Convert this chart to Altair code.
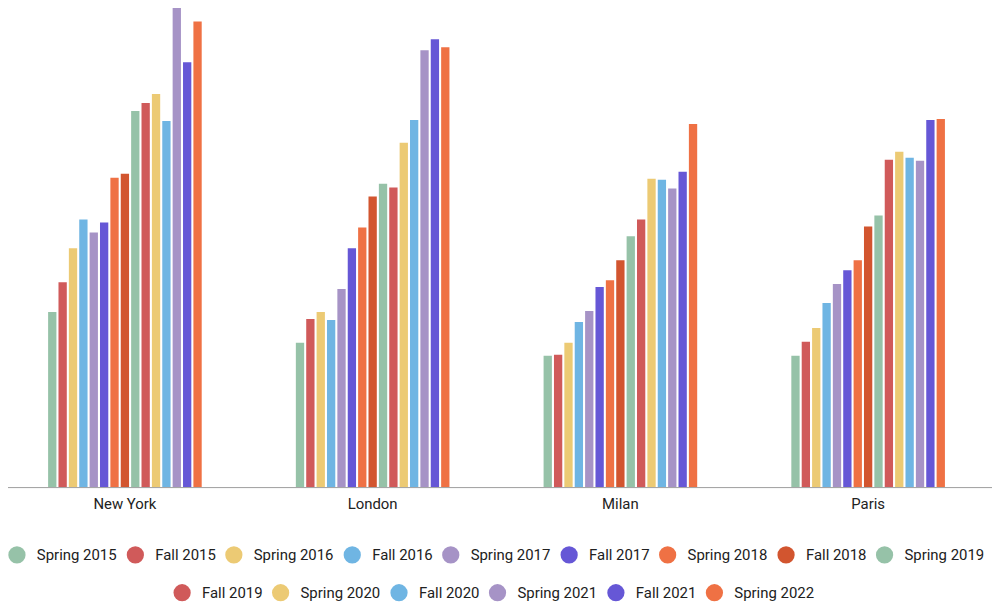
import altair as alt
import pandas as pd

cities = ["New York", "London", "Milan", "Paris"]
seasons = ["Spring 2015", "Fall 2015", "Spring 2016", "Fall 2016", "Spring 2017",
           "Fall 2017", "Spring 2018", "Fall 2018", "Spring 2019", "Fall 2019",
           "Spring 2020", "Fall 2020", "Spring 2021", "Fall 2021", "Spring 2022"]
colors = ["#96c2a8", "#d05a5a", "#ecca74", "#6fb5e3", "#a693c6",
          "#6657d6", "#ef7144", "#d2552f", "#96c2a8", "#d05a5a",
          "#ecca74", "#6fb5e3", "#a693c6", "#6657d6", "#ef7144"]

new_york = [176, 206, 240, 269, 256, 266, 311, 315, 378, 386, 395, 368, 482, 427, 468]
london = [145, 169, 176, 168, 199, 240, 261, 292, 305, 301, 346, 369, 439, 450, 442]
milan = [132, 133, 145, 166, 177, 201, 208, 228, 252, 269, 310, 309, 300, 317, 365]
paris = [132, 146, 160, 185, 204, 218, 228, 262, 273, 329, 337, 331, 328, 369, 370]

rows = []
for city, vals in zip(cities, [new_york, london, milan, paris]):
    for s, v in zip(seasons, vals):
        rows.append({"city": city, "season": s, "value": v})
df = pd.DataFrame(rows)

row1 = seasons[:9]
row2 = seasons[9:]

x_enc = alt.X("city:N", sort=cities, title=None,
              scale=alt.Scale(paddingInner=0.38, paddingOuter=0.19, range=[-7, 989]),
              axis=alt.Axis(labelAngle=0, ticks=False, tickSize=0, labelPadding=10,
                            labelFontSize=15, labelFont="Roboto",
                            labelColor="#222222", domainColor="#9e9e9e",
                            domainWidth=1, grid=False))
xo_enc = alt.XOffset("season:N", sort=seasons,
                     scale=alt.Scale(domain=seasons, paddingInner=0.2, paddingOuter=0))
y_enc = alt.Y("value:Q", axis=None, scale=alt.Scale(domain=[0, 480]))


def legend(x, y, n):
    return alt.Legend(orient="none", legendX=x, legendY=y, direction="horizontal",
                      columns=n, title=None, symbolType="circle", symbolSize=300,
                      symbolStrokeWidth=0, labelFontSize=15, labelFont="Roboto",
                      labelColor="#212121", labelOffset=11, columnPadding=9)


base = alt.Chart(df)
layer1 = base.transform_filter(
    alt.FieldOneOfPredicate(field="season", oneOf=row1)
).mark_bar(clip=False).encode(
    x=x_enc, xOffset=xo_enc, y=y_enc,
    color=alt.Color("season:N", sort=row1,
                    scale=alt.Scale(domain=row1, range=colors[:9]),
                    legend=legend(0, 539, 9)),
)
layer2 = base.transform_filter(
    alt.FieldOneOfPredicate(field="season", oneOf=row2)
).transform_calculate(season2="datum.season").mark_bar(clip=False).encode(
    x=x_enc, xOffset=xo_enc, y=y_enc,
    color=alt.Color("season2:N", sort=row2,
                    scale=alt.Scale(domain=row2, range=colors[9:]),
                    legend=legend(166, 577, 6)),
)

chart = alt.layer(layer1, layer2).resolve_scale(color="independent").properties(
    width=989, height=480,
    padding={"left": 0, "top": 0, "right": 0, "bottom": 118},
    autosize=alt.AutoSizeParams(type="none"),
).configure_view(stroke=None)

chart.save("out.html", embed_options={"renderer": "svg", "actions": False})
